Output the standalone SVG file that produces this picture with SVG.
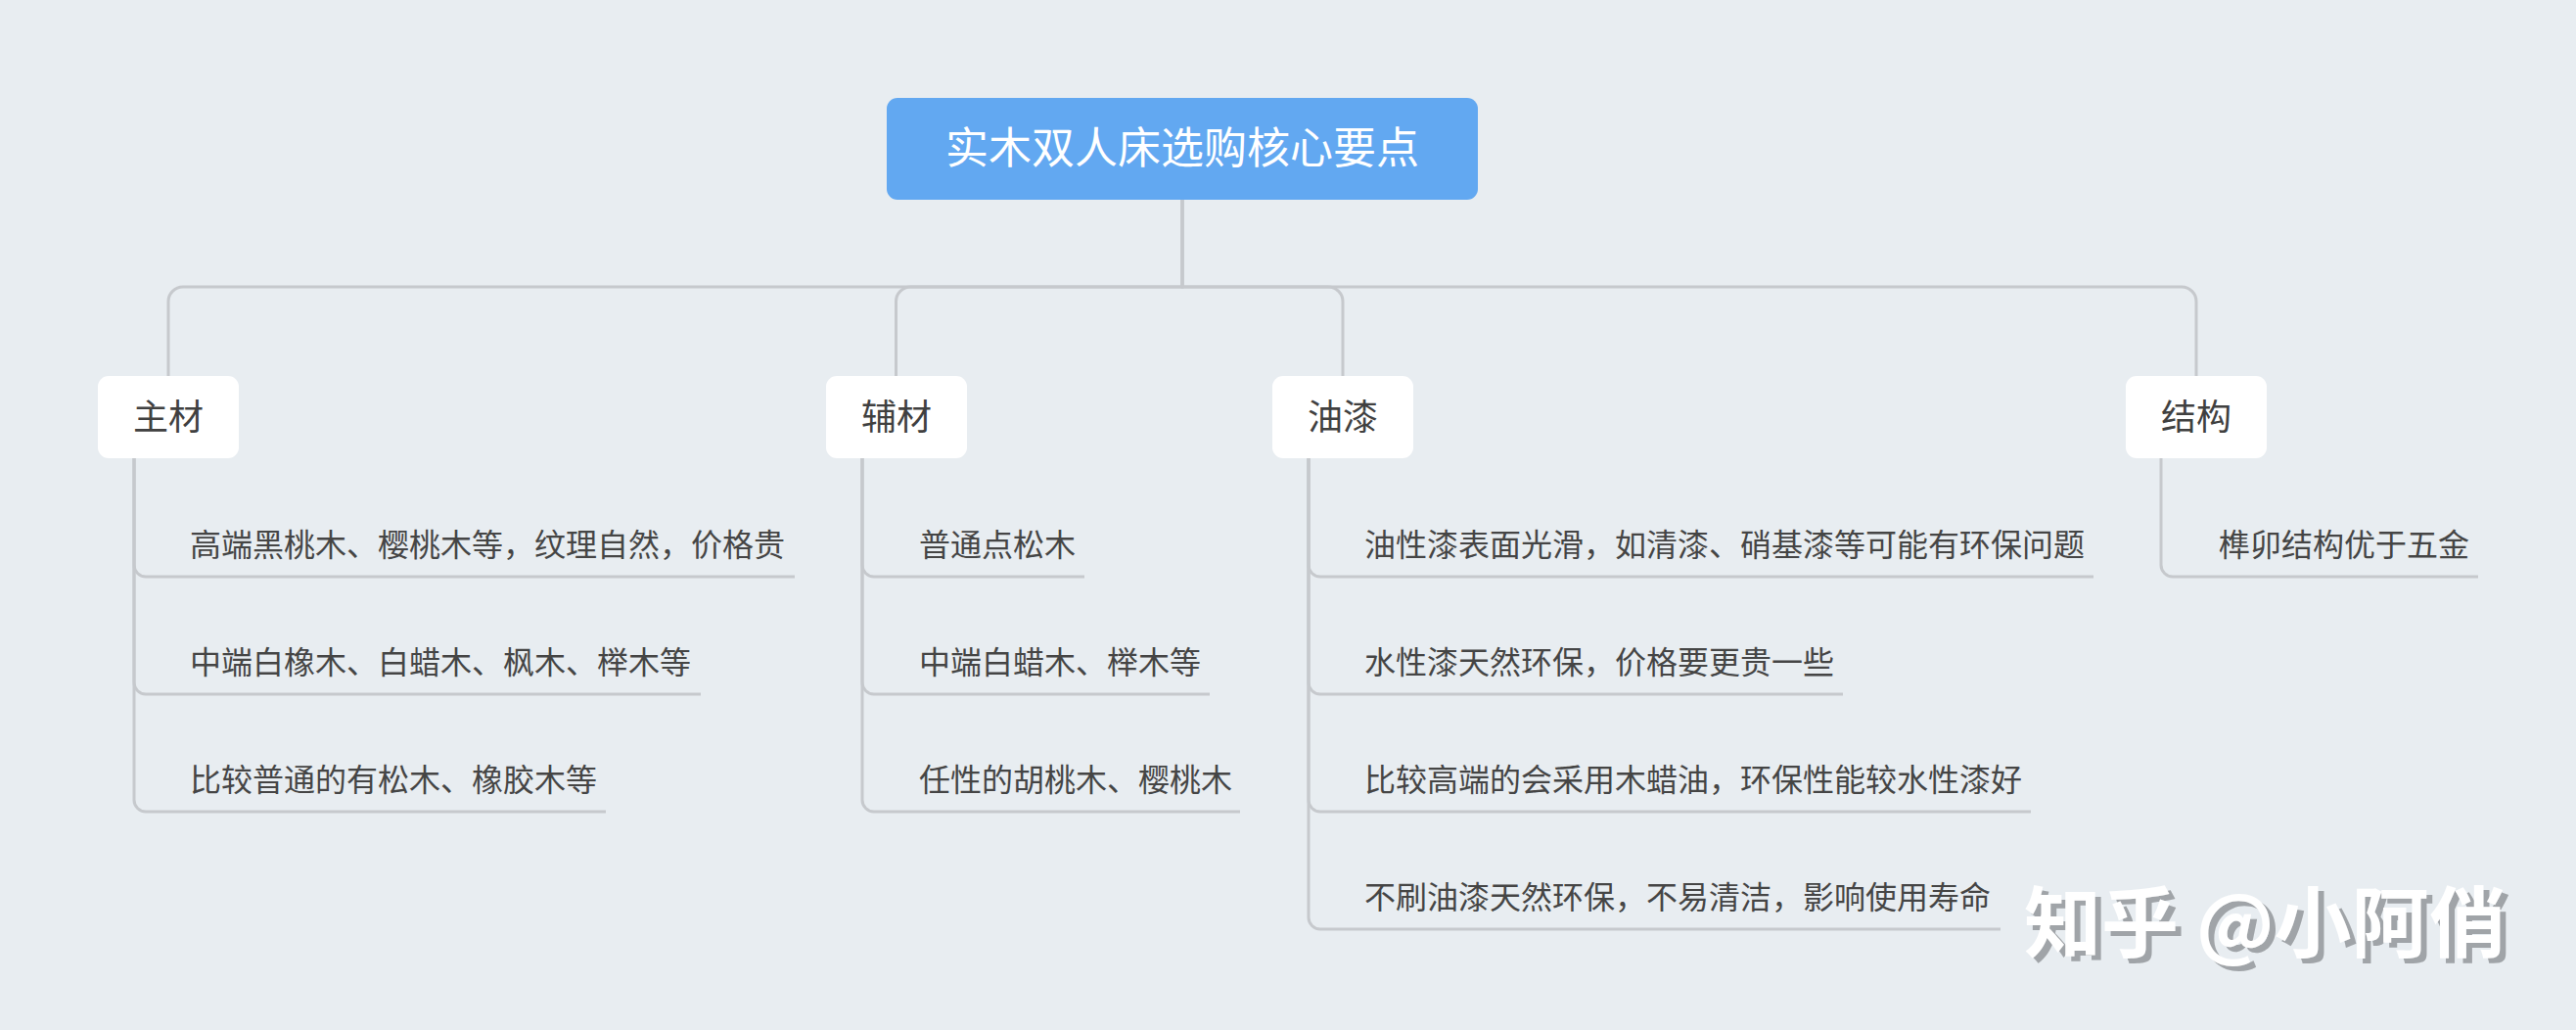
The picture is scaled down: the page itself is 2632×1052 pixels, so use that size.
<svg xmlns="http://www.w3.org/2000/svg" width="2632" height="1052" viewBox="0 0 2632 1052">
<defs>
<filter id="wmShadow" x="-10%" y="-30%" width="120%" height="160%">
<feFlood flood-color="#a0a4a8" result="c"/>
<feOffset in="SourceAlpha" dx="6" dy="5" result="o"/>
<feComposite in="c" in2="o" operator="in" result="s"/>
<feMerge><feMergeNode in="s"/><feMergeNode in="SourceGraphic"/></feMerge>
</filter>
</defs>
<style>
.bg{fill:#e8edf1}
.ln{fill:none;stroke:#c6c9cd;stroke-width:3}
.root rect{fill:#62a8f1}
.root text{fill:#ffffff;font-size:44px}
.l1 rect{fill:#ffffff}
.l1 text{fill:#404040;font-size:36px}
.l2{fill:#454545;font-size:32px}
text{font-family:"Noto Sans CJK SC","Noto Sans",sans-serif}
.wm{font-size:79px;font-weight:bold;fill:#ffffff}
</style>
<rect class="bg" x="0" y="0" width="2632" height="1052"/>
<g id="connectors">
<path class="ln" d="M1208 204 V293 H187 A15 15 0 0 0 172 308 V384"/>
<path class="ln" d="M1208 204 V293 H930.5 A15 15 0 0 0 915.5 308 V384"/>
<path class="ln" d="M1208 204 V293 H1357 A15 15 0 0 1 1372 308 V384"/>
<path class="ln" d="M1208 204 V293 H2229 A15 15 0 0 1 2244 308 V384"/>
<path class="ln" d="M137 467 V577 A12 12 0 0 0 149 589 H812"/>
<path class="ln" d="M137 467 V697 A12 12 0 0 0 149 709 H716"/>
<path class="ln" d="M137 467 V817 A12 12 0 0 0 149 829 H619"/>
<path class="ln" d="M881 467 V577 A12 12 0 0 0 893 589 H1108"/>
<path class="ln" d="M881 467 V697 A12 12 0 0 0 893 709 H1236"/>
<path class="ln" d="M881 467 V817 A12 12 0 0 0 893 829 H1267"/>
<path class="ln" d="M1337 467 V577 A12 12 0 0 0 1349 589 H2139"/>
<path class="ln" d="M1337 467 V697 A12 12 0 0 0 1349 709 H1883"/>
<path class="ln" d="M1337 467 V817 A12 12 0 0 0 1349 829 H2075"/>
<path class="ln" d="M1337 467 V937 A12 12 0 0 0 1349 949 H2044"/>
<path class="ln" d="M2208 467 V577 A12 12 0 0 0 2220 589 H2532"/>
</g>
<g id="root" class="root">
<rect x="906" y="100" width="604" height="104" rx="11"/>
<text x="1208" y="167" text-anchor="middle">实木双人床选购核心要点</text>
</g>
<g id="n-zhucai" class="l1">
<rect x="100" y="384" width="144" height="84" rx="11"/>
<text x="172" y="439" text-anchor="middle">主材</text>
</g>
<g id="n-fucai" class="l1">
<rect x="844" y="384" width="144" height="84" rx="11"/>
<text x="916" y="439" text-anchor="middle">辅材</text>
</g>
<g id="n-youqi" class="l1">
<rect x="1300" y="384" width="144" height="84" rx="11"/>
<text x="1372" y="439" text-anchor="middle">油漆</text>
</g>
<g id="n-jiegou" class="l1">
<rect x="2172" y="384" width="144" height="84" rx="11"/>
<text x="2244" y="439" text-anchor="middle">结构</text>
</g>
<g id="n-zhucai-1"><text class="l2" x="194" y="568">高端黑桃木、樱桃木等，纹理自然，价格贵</text></g>
<g id="n-zhucai-2"><text class="l2" x="194" y="688">中端白橡木、白蜡木、枫木、榉木等</text></g>
<g id="n-zhucai-3"><text class="l2" x="194" y="808">比较普通的有松木、橡胶木等</text></g>
<g id="n-fucai-1"><text class="l2" x="939" y="568">普通点松木</text></g>
<g id="n-fucai-2"><text class="l2" x="939" y="688">中端白蜡木、榉木等</text></g>
<g id="n-fucai-3"><text class="l2" x="939" y="808">任性的胡桃木、樱桃木</text></g>
<g id="n-youqi-1"><text class="l2" x="1394" y="568">油性漆表面光滑，如清漆、硝基漆等可能有环保问题</text></g>
<g id="n-youqi-2"><text class="l2" x="1394" y="688">水性漆天然环保，价格要更贵一些</text></g>
<g id="n-youqi-3"><text class="l2" x="1394" y="808">比较高端的会采用木蜡油，环保性能较水性漆好</text></g>
<g id="n-youqi-4"><text class="l2" x="1394" y="928">不刷油漆天然环保，不易清洁，影响使用寿命</text></g>
<g id="n-jiegou-1"><text class="l2" x="2267" y="568">榫卯结构优于五金</text></g>
<g id="watermark">
<text class="wm" x="2068" y="972" filter="url(#wmShadow)">知乎 @小阿俏</text>
</g>
</svg>
